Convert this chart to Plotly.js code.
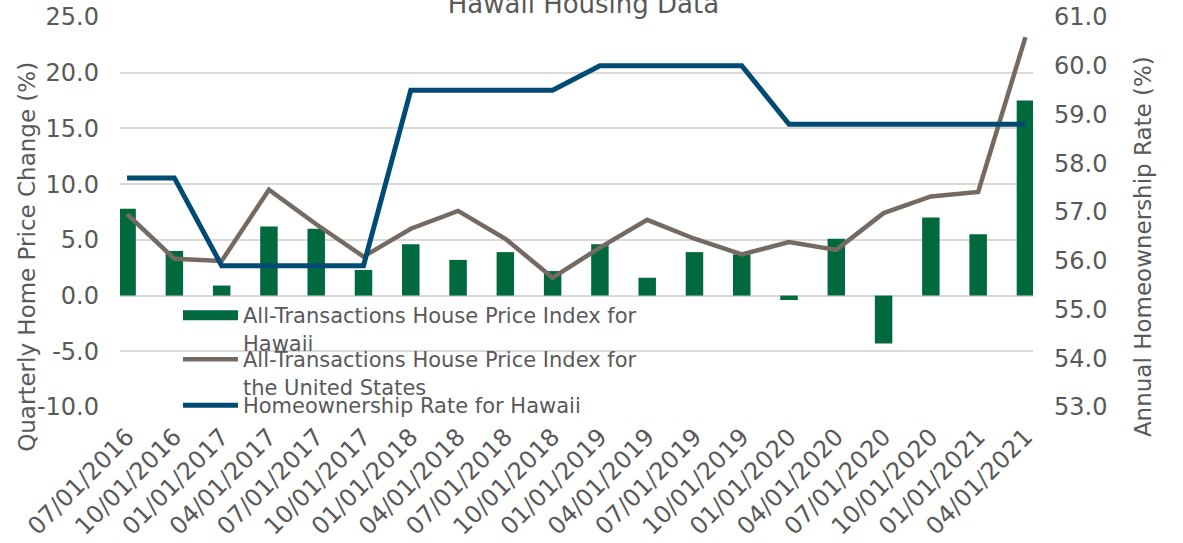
<!DOCTYPE html>
<html>
<head>
<meta charset="utf-8">
<script src="https://cdn.plot.ly/plotly-3.0.1.min.js"></script>
<style>
  html, body { margin: 0; padding: 0; background: #ffffff; }
  #chart { width: 1183px; height: 543px; }
</style>
</head>
<body>
<div id="chart"></div>
<script>
const quarters = ['07/01/2016','10/01/2016','01/01/2017','04/01/2017','07/01/2017','10/01/2017',
  '01/01/2018','04/01/2018','07/01/2018','10/01/2018','01/01/2019','04/01/2019','07/01/2019',
  '10/01/2019','01/01/2020','04/01/2020','07/01/2020','10/01/2020','01/01/2021','04/01/2021'];
const hawaiiHPI = [7.8, 4.0, 0.9, 6.2, 6.0, 2.3, 4.6, 3.2, 3.9, 2.2, 4.6, 1.6, 3.9, 3.7, -0.4, 5.1, -4.3, 7.0, 5.5, 17.5];
const usHPI = [7.3, 3.3, 3.1, 9.5, 6.4, 3.5, 6.0, 7.6, 5.1, 1.6, 4.3, 6.8, 5.1, 3.7, 4.8, 4.1, 7.4, 8.9, 9.3, 23.2];
const homeownership = [57.7, 57.7, 55.9, 55.9, 55.9, 55.9, 59.5, 59.5, 59.5, 59.5, 60.0, 60.0, 60.0, 60.0, 58.8, 58.8, 58.8, 58.8, 58.8, 58.8];
const seriesNames = ['All-Transactions House Price Index for<br>Hawaii',
  'All-Transactions House Price Index for<br>the United States',
  'Homeownership Rate for Hawaii'];
const leftTicks = [-10, -5, 0, 5, 10, 15, 20, 25];
const rightTicks = [53, 54, 55, 56, 57, 58, 59, 60, 61];

const FONT = 'DejaVu Sans, Verdana, sans-serif';
const TXT = '#595959';
const GREEN = '#00693E';

const data = [
  {
    type: 'bar', x: quarters, y: hawaiiHPI, name: seriesNames[0],
    marker: { color: GREEN }, width: 0.37, legendgroup: 'hawaiiHPI', showlegend: false,
    yaxis: 'y', hoverinfo: 'x+y'
  },
  {
    // legend swatch for the Hawaii bar series (wide block like the original)
    type: 'scatter', mode: 'lines', x: [null], y: [null], name: seriesNames[0],
    line: { color: GREEN, width: 14 }, legendgroup: 'hawaiiHPI', legend: 'legend',
    showlegend: true, yaxis: 'y', hoverinfo: 'skip'
  },
  {
    type: 'scatter', mode: 'lines', x: quarters, y: usHPI, name: seriesNames[1],
    line: { color: '#746A62', width: 4.5 }, legend: 'legend2', showlegend: true, yaxis: 'y'
  },
  {
    type: 'scatter', mode: 'lines', x: quarters, y: homeownership, name: seriesNames[2],
    line: { color: '#004B73', width: 5 }, legend: 'legend3', showlegend: true, yaxis: 'y2'
  }
];

const legendBase = {
  visible: true,
  xref: 'paper', yref: 'paper', xanchor: 'left', yanchor: 'top',
  bgcolor: 'rgba(0,0,0,0)', borderwidth: 0, valign: 'top',
  font: { family: FONT, size: 21, color: TXT }, itemwidth: 55
};

const layout = {
  width: 1183, height: 543,
  showlegend: true,
  margin: { l: 120, r: 150, t: 17, b: 136, pad: 0 },
  paper_bgcolor: '#ffffff', plot_bgcolor: '#ffffff',
  font: { family: FONT, color: TXT },
  title: {
    text: 'Hawaii Housing Data',
    font: { family: FONT, size: 26, color: TXT },
    x: 0.4932, xref: 'container', xanchor: 'center',
    y: 0.9926, yref: 'container', yanchor: 'middle'
  },
  bargap: 0.6,
  xaxis: {
    type: 'category', range: [-0.15, 19.16],
    tickangle: -45, tickfont: { family: FONT, size: 24, color: TXT },
    showgrid: false, showline: false, zeroline: false, ticks: '', ticklabelstandoff: 10
  },
  yaxis: {
    range: [-10, 25], tickvals: leftTicks, ticktext: leftTicks.map(v => v.toFixed(1)),
    tickfont: { family: FONT, size: 24, color: TXT },
    showgrid: true, gridcolor: '#D9D9D9', gridwidth: 1.5,
    zeroline: false, showline: false, ticks: '', ticklabelstandoff: 20
  },
  yaxis2: {
    range: [53, 61], tickvals: rightTicks, ticktext: rightTicks.map(v => v.toFixed(1)),
    overlaying: 'y', side: 'right',
    tickfont: { family: FONT, size: 24, color: TXT },
    showgrid: false, zeroline: false, showline: false, ticks: '', ticklabelstandoff: 20
  },
  legend: Object.assign({}, legendBase, { x: 0.0635, y: 0.287 }),
  legend2: Object.assign({}, legendBase, { x: 0.0635, y: 0.1744 }),
  legend3: Object.assign({}, legendBase, { x: 0.0635, y: 0.0564 }),
  annotations: [
    {
      text: 'Quarterly Home Price Change (%)', textangle: -90,
      xref: 'paper', yref: 'paper', x: -0.1019, y: 0.385,
      xanchor: 'center', yanchor: 'middle', showarrow: false,
      font: { family: FONT, size: 23, color: TXT }
    },
    {
      text: 'Annual Homeownership Rate (%)', textangle: -90,
      xref: 'paper', yref: 'paper', x: 1.1205, y: 0.41,
      xanchor: 'center', yanchor: 'middle', showarrow: false,
      font: { family: FONT, size: 23, color: TXT }
    }
  ]
};

Plotly.newPlot('chart', data, layout, { displayModeBar: false, responsive: false });
</script>
</body>
</html>
